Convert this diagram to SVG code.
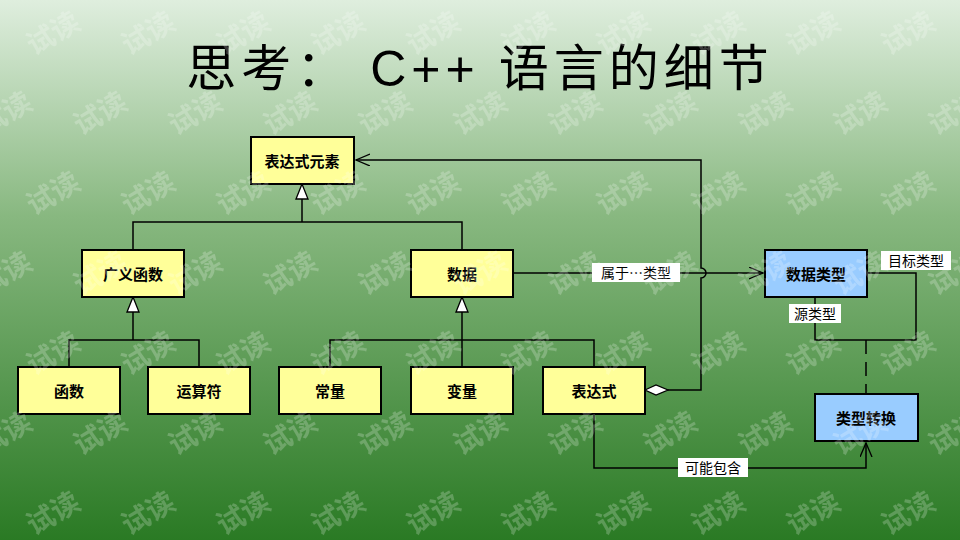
<svg xmlns="http://www.w3.org/2000/svg" width="960" height="540" viewBox="0 0 960 540">
<defs>
<linearGradient id="bg" x1="0" y1="0" x2="0" y2="1">
<stop offset="0" stop-color="#dfeede"/><stop offset="0.4" stop-color="#88b880"/><stop offset="1" stop-color="#2a7a24"/>
</linearGradient>
<pattern id="wm" x="53" y="73" width="95" height="160" patternUnits="userSpaceOnUse">
<text x="47" y="50" class="wm" transform="rotate(-30 47 40)">试读</text>
<text x="0" y="130" class="wm" transform="rotate(-30 0 120)">试读</text>
<text x="95" y="130" class="wm" transform="rotate(-30 95 120)">试读</text>
</pattern>
<marker id="tri" markerWidth="18" markerHeight="16" refX="16" refY="7" orient="auto" markerUnits="userSpaceOnUse"><path d="M1,1 L16,7 L1,13 Z" fill="#fff" stroke="#000" stroke-width="1.3"/></marker>
<marker id="open" markerWidth="16" markerHeight="14" refX="14" refY="6" orient="auto" markerUnits="userSpaceOnUse"><path d="M0,0 L14,6 L0,12" fill="none" stroke="#000" stroke-width="1.3"/></marker>
<marker id="dia" markerWidth="28" markerHeight="14" refX="1" refY="6" orient="auto" markerUnits="userSpaceOnUse"><path d="M1,6 L12,1 L24,6 L12,11 Z" fill="#fff" stroke="#000" stroke-width="1.3"/></marker>
<style>
.wm{font-family:"Noto Sans CJK SC",sans-serif;font-size:28px;font-weight:bold;fill:#fff;fill-opacity:0.22;text-anchor:middle}
.box{fill:#ffff99;stroke:#000;stroke-width:2}
.blue{fill:#99ccff;stroke:#000;stroke-width:2}
.t{font-family:"Noto Sans CJK SC",sans-serif;font-size:15px;font-weight:bold;text-anchor:middle;dominant-baseline:central;fill:#000}
.l{font-family:"Noto Sans CJK SC",sans-serif;font-size:14px;text-anchor:middle;dominant-baseline:central;fill:#000}
.c{fill:none;stroke:#000;stroke-width:1.5}
</style>
</defs>
<rect width="960" height="540" fill="url(#bg)"/>
<text x="480" y="86" font-family="'Liberation Sans','Noto Sans CJK SC',sans-serif" font-size="50" letter-spacing="5" text-anchor="middle" fill="#000">思考：  C++ 语言的细节</text>
<g id="connectors">
<path class="c" d="M133,250 V222 H462 V250"/>
<path class="c" d="M302,222 V184" marker-end="url(#tri)"/>
<path class="c" d="M69,367 V340 H199 V367"/>
<path class="c" d="M133,340 V297" marker-end="url(#tri)"/>
<path class="c" d="M330,367 V340 H594 V367"/>
<path class="c" d="M462,367 V297" marker-end="url(#tri)"/>
<path class="c" d="M645,390 H701 V278 A5,5 0 0 0 701,268 V160 H356" marker-start="url(#dia)" marker-end="url(#open)"/>
<path class="c" d="M513,273 H763" marker-end="url(#open)"/>
<path class="c" d="M815,297 V340 H916 V273 H867"/>
<path class="c" d="M866,340 V394" stroke-dasharray="14,8"/>
<path class="c" d="M594,414 V468 H866 V443" marker-end="url(#open)"/>
<rect x="592" y="263" width="88" height="19" fill="#fff"/><text class="l" x="636" y="272">属于…类型</text>
<rect x="789" y="304" width="52" height="19" fill="#fff"/><text class="l" x="815" y="313">源类型</text>
<rect x="881" y="251" width="70" height="19" fill="#fff"/><text class="l" x="916" y="260">目标类型</text>
<rect x="678" y="458" width="70" height="19" fill="#fff"/><text class="l" x="713" y="467">可能包含</text>
</g>
<g id="n1"><rect class="box" x="251" y="137" width="103" height="47"/><text class="t" x="302" y="160">表达式元素</text></g>
<g id="n2"><rect class="box" x="82" y="250" width="102" height="47"/><text class="t" x="133" y="273">广义函数</text></g>
<g id="n3"><rect class="box" x="411" y="250" width="102" height="47"/><text class="t" x="462" y="273">数据</text></g>
<g id="n4"><rect class="box" x="18" y="367" width="102" height="47"/><text class="t" x="69" y="390">函数</text></g>
<g id="n5"><rect class="box" x="148" y="367" width="102" height="47"/><text class="t" x="199" y="390">运算符</text></g>
<g id="n6"><rect class="box" x="279" y="367" width="102" height="47"/><text class="t" x="330" y="390">常量</text></g>
<g id="n7"><rect class="box" x="411" y="367" width="102" height="47"/><text class="t" x="462" y="390">变量</text></g>
<g id="n8"><rect class="box" x="543" y="367" width="102" height="47"/><text class="t" x="594" y="390">表达式</text></g>
<g id="n9"><rect class="blue" x="765" y="250" width="102" height="47"/><text class="t" x="816" y="273">数据类型</text></g>
<g id="n10"><rect class="blue" x="815" y="394" width="103" height="47"/><text class="t" x="866" y="417">类型转换</text></g>
<rect width="960" height="540" fill="url(#wm)" pointer-events="none"/>
</svg>
